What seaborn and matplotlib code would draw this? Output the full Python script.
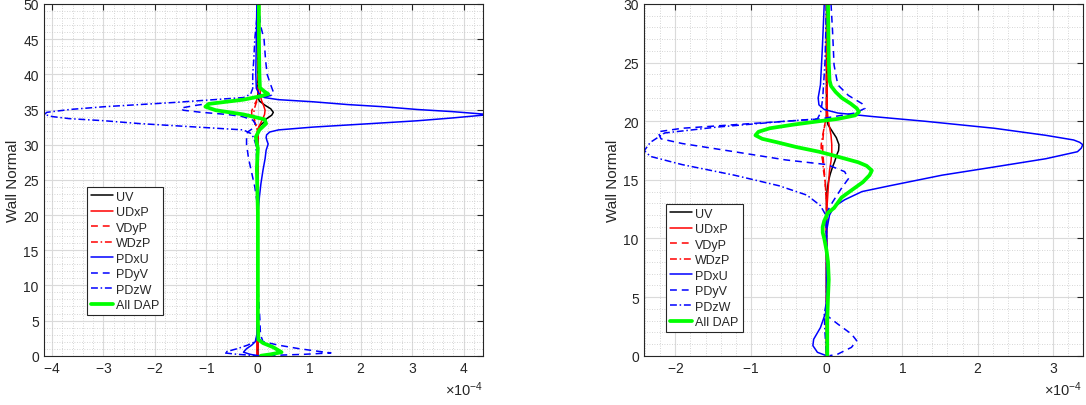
import numpy as np
import matplotlib
matplotlib.use("Agg")
import matplotlib.pyplot as plt
import seaborn as sns
from matplotlib.ticker import MultipleLocator, ScalarFormatter

# x values are in units of 1e-4
SCALE = 1e-4
SERIES = ["UV", "UDxP", "VDyP", "WDzP", "PDxU", "PDyV", "PDzW", "All DAP"]

# ---------------- Left panel ----------------
L_UV_Y = [50, 36.8, 36.2, 35.6, 35.1, 34.6, 34.2, 33.7, 33.2, 32.8, 32.3, 31.5, 0]
L_UV = [0, 0, 0.03, 0.14, 0.25, 0.30, 0.27, 0.17, 0.12, 0.05, 0.01, 0, 0]

L_UDXP_Y = [50, 40, 37, 36.3, 35.6, 34.9, 34.3, 33.6, 33.0, 32.4, 31.6, 30, 20, 3, 0]
L_UDXP = [0.03, 0.03, 0.05, 0.07, 0.11, 0.14, 0.13, 0.09, 0.05, 0.01, -0.01, 0, 0, -0.02, -0.02]

L_VDYP_Y = [50, 37, 36.2, 35.5, 34.8, 34.2, 33.6, 33.0, 32.3, 31.5, 0]
L_VDYP = [0, 0.01, -0.03, -0.08, -0.12, -0.12, -0.09, -0.05, -0.02, 0, 0]

L_WDZP_Y = [50, 36.8, 36.0, 35.3, 34.6, 34.0, 33.4, 32.7, 32.0, 31.3, 0]
L_WDZP = [0, 0, -0.03, -0.06, -0.08, -0.08, -0.06, -0.03, -0.01, 0, 0]

L_PDXU_Y = [50, 45, 40, 38, 37.3, 36.9, 36.7, 36.4, 36.1, 35.7, 35.4, 35.0, 34.7, 34.35,
            34.2, 33.8, 33.4, 33.1, 32.8, 32.5, 32.1, 31.8, 31.4, 31.0, 30.5, 30.1, 29.2,
            28, 26.4, 24.5, 22.6, 20, 10, 3, 2, 1.5, 1, 0.5, 0.2, 0]
L_PDXU = [-0.02, -0.03, -0.04, -0.03, 0.02, 0.08, 0.13, 0.4, 1.07, 1.75, 2.43, 3.1, 3.78, 4.38,
          4.38, 3.78, 3.1, 2.43, 1.75, 1.07, 0.4, 0.23, 0.17, 0.16, 0.18, 0.2, 0.16,
          0.14, 0.1, 0.06, 0.03, 0, 0, -0.02, -0.05, -0.12, -0.22, -0.28, -0.15, 0]

L_PDYV_Y = [50, 47, 45, 42, 40, 38.5, 37.5, 37.1, 36.8, 36.4, 36.0, 35.6, 35.2, 34.9, 34.6,
            34.3, 34.0, 33.5, 33.0, 32.3, 31.8, 31.2, 30, 28, 26, 24, 22, 20, 10, 5,
            3, 2, 1.5, 1, 0.6, 0.4, 0.2, 0.05, 0]
L_PDYV = [0.02, 0.05, 0.12, 0.15, 0.18, 0.25, 0.3, 0.3, 0.15, -0.3, -0.8, -1.2, -1.5, -1.45, -1.1,
          -0.6, -0.3, -0.1, -0.05, -0.1, -0.2, -0.22, -0.22, -0.18, -0.12, -0.06, -0.02, 0, 0, 0.04,
          0.05, 0.1, 0.4, 0.8, 1.2, 1.42, 0.9, 0.3, 0]

L_PDZW_Y = [50, 48, 45, 42, 40, 38, 37.2, 36.7, 36.35, 36.0, 35.7, 35.4, 35.0, 34.6, 34.3,
            34.0, 33.7, 33.4, 33.0, 32.7, 32.4, 32.1, 31.6, 31.0, 30, 25, 3, 2, 1.5, 1,
            0.6, 0.4, 0.2, 0]
L_PDZW = [0, -0.02, -0.06, -0.08, -0.1, -0.1, -0.14, -0.28, -0.95, -1.63, -2.3, -2.98, -3.66, -4.1, -4.15,
          -4.0, -3.66, -2.98, -2.3, -1.63, -0.95, -0.28, -0.14, -0.08, -0.04, 0, 0, -0.05, -0.2, -0.4,
          -0.6, -0.65, -0.4, 0]

L_ALL_Y = [50, 45, 40, 38.1, 37.6, 37.2, 36.9, 36.4, 35.8, 35.4, 34.9, 34.3, 33.6, 33.0, 32.1,
           31.1, 30.2, 29.5, 26.6, 20.4, 15, 10, 5, 2.3, 1.8, 1.2, 0.5, 0.2, 0]
L_ALL = [0.02, 0.02, 0.03, 0.04, 0.12, 0.2, 0.06, -0.28, -0.95, -1.02, -0.82, -0.28, 0.13, 0.16, 0.03,
         -0.04, -0.02, 0.0, -0.02, 0.0, 0.0, 0.0, 0.0, 0.01, 0.1, 0.3, 0.46, 0.25, 0.06]

# ---------------- Right panel ----------------
R_UV_Y = [30, 20.3, 19.7, 19.2, 18.6, 18.0, 17.5, 17.2, 16.6, 16.1, 15.5, 15.0, 14.2, 13.6, 0]
R_UV = [0, 0, 0.02, 0.07, 0.13, 0.165, 0.16, 0.14, 0.11, 0.08, 0.05, 0.03, 0.01, 0, 0]

R_UDXP_Y = [30, 21, 20.2, 19.5, 18.8, 18.0, 17.3, 16.6, 15.8, 15.0, 14.0, 13.0, 12.0, 5, 4, 3, 0]
R_UDXP = [0.01, 0.01, 0.02, 0.04, 0.06, 0.07, 0.07, 0.06, 0.04, 0.03, 0.02, 0.01, 0.0, 0.0, 0.01, 0.0, 0.0]

R_VDYP_Y = [30, 20.5, 19.8, 19.0, 18.2, 17.4, 16.6, 15.8, 15.0, 14.0, 13.0, 0]
R_VDYP = [0, 0, -0.02, -0.04, -0.05, -0.05, -0.04, -0.03, -0.02, -0.01, 0, 0]

R_WDZP_Y = [30, 20.3, 19.5, 18.8, 18.0, 17.3, 16.6, 15.8, 15.0, 14.0, 13.0, 0]
R_WDZP = [0, 0, -0.03, -0.05, -0.07, -0.07, -0.05, -0.04, -0.02, -0.01, 0, 0]

R_PDXU_Y = [30, 26.2, 23.1, 22.0, 21.4, 21.0, 20.7, 20.4, 20.0, 19.4, 18.8, 18.4, 18.2, 18.0,
            17.7, 17.4, 16.8, 16.1, 15.4, 14.5, 14.0, 13.3, 12.7, 12.0, 10.6, 4.8, 3.7, 2.4,
            1.4, 0.86, 0.29, 0]
R_PDXU = [-0.03, -0.055, -0.08, -0.11, -0.1, -0.03, 0.15, 0.61, 1.3, 2.22, 2.9, 3.27, 3.35, 3.39,
          3.37, 3.32, 2.9, 2.22, 1.53, 0.84, 0.47, 0.24, 0.1, 0.04, 0.0, 0.0, -0.01, -0.08,
          -0.17, -0.18, -0.12, 0]

R_PDYV_Y = [30, 27.7, 24.8, 23.1, 22.2, 21.5, 21.1, 20.7, 20.2, 19.8, 19.4, 19.1, 18.5, 18.1, 17.4,
            16.7, 16.3, 15.7, 15.1, 14.3, 13.1, 12.3, 11, 5, 3.4, 2.7, 1.85, 1.28, 0.71, 0.14, 0]
R_PDYV = [0.06, 0.08, 0.1, 0.15, 0.29, 0.47, 0.51, 0.38, -0.08, -1.0, -1.91, -2.23, -2.19, -1.91, -1.22,
          -0.54, 0.01, 0.24, 0.29, 0.2, 0.08, 0.01, 0, 0.01, 0.01, 0.15, 0.33, 0.4, 0.33, 0.15, 0.04]

R_PDZW_Y = [30, 25, 22, 21, 20.7, 20.2, 20.0, 19.5, 19.0, 18.2, 17.5, 17.0, 16.3, 15.4, 14.5,
            13.7, 12.8, 12.0, 10, 5, 3.5, 2, 0]
R_PDZW = [0, -0.02, -0.05, -0.07, -0.08, -0.12, -0.54, -1.45, -2.14, -2.33, -2.41, -2.33, -1.91, -1.22, -0.63,
          -0.26, -0.08, -0.01, 0, 0.01, -0.03, -0.02, 0]

R_ALL_Y = [30, 25, 23.5, 23.0, 22.5, 22.0, 21.5, 21.1, 20.8, 20.5, 20.2, 20.0, 19.7, 19.4, 19.1,
           18.8, 18.5, 18.2, 17.8, 17.4, 17.1, 16.8, 16.5, 16.2, 15.8, 15.4, 14.8, 14.2, 13.5, 12.6,
           12.2, 11.5, 11.0, 10.5, 10.0, 9.0, 8.0, 6.5, 5, 3, 0]
R_ALL = [0.02, 0.03, 0.04, 0.06, 0.12, 0.2, 0.32, 0.4, 0.43, 0.38, 0.15, -0.1, -0.45, -0.75, -0.9,
         -0.94, -0.85, -0.65, -0.4, -0.1, 0.08, 0.25, 0.42, 0.53, 0.6, 0.57, 0.48, 0.35, 0.2, 0.1,
         0.02, -0.03, -0.05, -0.05, -0.03, 0.0, 0.02, 0.03, 0.02, 0.01, 0.01]

LEFT = [(L_UV_Y, L_UV), (L_UDXP_Y, L_UDXP), (L_VDYP_Y, L_VDYP), (L_WDZP_Y, L_WDZP),
        (L_PDXU_Y, L_PDXU), (L_PDYV_Y, L_PDYV), (L_PDZW_Y, L_PDZW), (L_ALL_Y, L_ALL)]
RIGHT = [(R_UV_Y, R_UV), (R_UDXP_Y, R_UDXP), (R_VDYP_Y, R_VDYP), (R_WDZP_Y, R_WDZP),
         (R_PDXU_Y, R_PDXU), (R_PDYV_Y, R_PDYV), (R_PDZW_Y, R_PDZW), (R_ALL_Y, R_ALL)]

DASH = (0, (4.5, 3.2))
DASHDOT = (0, (4.5, 1.8, 1.0, 1.8))
THIN = 1.1
STYLES = {
    "UV": dict(color="black", linestyle="-", linewidth=THIN),
    "UDxP": dict(color="#ff0000", linestyle="-", linewidth=THIN),
    "VDyP": dict(color="#ff0000", linestyle=DASH, linewidth=THIN),
    "WDzP": dict(color="#ff0000", linestyle=DASHDOT, linewidth=THIN),
    "PDxU": dict(color="#0000ff", linestyle="-", linewidth=THIN),
    "PDyV": dict(color="#0000ff", linestyle=DASH, linewidth=THIN),
    "PDzW": dict(color="#0000ff", linestyle=DASHDOT, linewidth=THIN),
    "All DAP": dict(color="#00ff00", linestyle="-", linewidth=2.7),
}

sns.set_theme(style="white")
plt.rcParams["font.family"] = ["Liberation Sans", "DejaVu Sans"]
plt.rcParams["axes.unicode_minus"] = False
plt.rcParams["mathtext.default"] = "regular"

fig = plt.figure(figsize=(10.86, 4.06), dpi=100)
axL = fig.add_axes([0.0408, 0.1214, 0.4042, 0.8663])
axR = fig.add_axes([0.5933, 0.1214, 0.4037, 0.8663])


def draw(ax, data, xlim, ylim, legend_anchor):
    for name, (ys, vs) in zip(SERIES, data):
        sns.lineplot(x=np.asarray(vs) * SCALE, y=np.asarray(ys, dtype=float), ax=ax,
                     sort=False, estimator=None, orient="y", label=name,
                     **STYLES[name])
    ax.set_xlim(xlim[0] * SCALE, xlim[1] * SCALE)
    ax.set_ylim(*ylim)
    ax.xaxis.set_major_locator(MultipleLocator(1 * SCALE))
    ax.xaxis.set_minor_locator(MultipleLocator(0.2 * SCALE))
    ax.yaxis.set_major_locator(MultipleLocator(5))
    ax.yaxis.set_minor_locator(MultipleLocator(1))
    fmt = ScalarFormatter(useMathText=True)
    fmt.set_powerlimits((-3, 3))
    ax.xaxis.set_major_formatter(fmt)
    ax.set_axisbelow(True)
    ax.grid(True, which="major", color="#dadada", linewidth=0.8, linestyle="-")
    ax.grid(True, which="minor", color="#c8c8c8", linewidth=0.6, linestyle=(0, (1, 2)))
    ax.tick_params(which="major", direction="in", length=4, width=0.8, top=True, right=True,
                   colors="0.15", labelsize=10, labelcolor="0.15", pad=4)
    ax.tick_params(which="minor", length=0)
    for sp in ax.spines.values():
        sp.set_color("0.15")
        sp.set_linewidth(0.8)
    ax.xaxis.get_offset_text().set_fontsize(10.5)
    ax.xaxis.get_offset_text().set_color("0.15")
    ax.set_xlabel("")
    ax.set_ylabel("Wall Normal", fontsize=11, color="0.15", labelpad=2)
    leg = ax.legend(loc="upper left", bbox_to_anchor=legend_anchor, fontsize=9,
                    frameon=True, fancybox=False, framealpha=1, edgecolor="0.15",
                    handlelength=1.8, handletextpad=0.25, borderpad=0.3,
                    labelspacing=0.28, borderaxespad=0)
    leg.get_frame().set_linewidth(0.8)


draw(axL, LEFT, (-4.15, 4.38), (0, 50), (0.097, 0.48))
draw(axR, RIGHT, (-2.41, 3.39), (0, 30), (0.0495, 0.431))

fig.savefig("out.png", dpi=100)
